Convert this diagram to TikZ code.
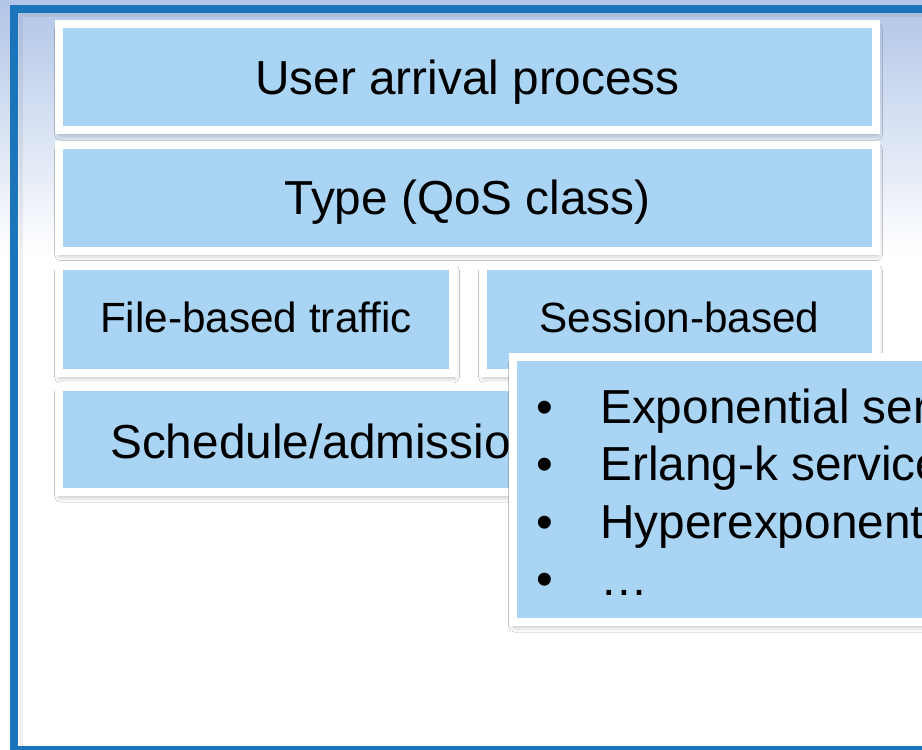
\documentclass[tikz,border=0pt]{standalone}
\usepackage{fontspec}
\setmainfont{Liberation Sans}
\usetikzlibrary{shadows.blur}
\definecolor{frameblue}{HTML}{1B75BB}
\definecolor{boxblue}{HTML}{A9D4F4}
\definecolor{bgtop}{HTML}{B1C5E7}
\begin{document}
\begin{tikzpicture}[x=0.75pt,y=-0.75pt,
    box/.style={draw=white, line width=6pt, fill=boxblue, inner sep=0pt,
      blur shadow={shadow xshift=0.8pt, shadow yshift=-3.5pt, shadow blur radius=4pt,
        shadow blur steps=8, shadow opacity=30}},
    big/.style={font=\fontsize{35.8}{43}\selectfont, text height=25.6pt, text depth=0pt},
    small/.style={font=\fontsize{31.7}{38}\selectfont, text height=22.7pt, text depth=3.8pt}]
  % Page and background
  \useasboundingbox (0,0) rectangle (922,750);
  \clip (0,0) rectangle (922,750);
  \fill[white] (0,0) rectangle (922,750);
  \shade[top color=bgtop, bottom color=white] (0,0) rectangle (922,255);

  % Slide frame
  \draw[black, opacity=0.06, line width=3pt] (20.5,746) -- (20.5,15) -- (940,15);
  \draw[frameblue, line width=6pt, line join=miter] (940,750) -- (14,750) -- (14,9) -- (940,9);

  % Layers of the model
  \node[box, big, minimum width=612.75pt, minimum height=79.5pt] (arrival) at (467.5,77) {User arrival process};
  \node[box, big, minimum width=612.75pt, minimum height=79.5pt] (qos) at (467.5,197.5) {Type (QoS class)};
  \node[box, small, minimum width=295.5pt, minimum height=80.25pt] (file) at (256,319.5) {File-based traffic};
  \node[box, small, minimum width=294.75pt, minimum height=80.25pt] (session) at (679.5,319.5) {Session-based};
  \node[box, minimum width=612.75pt, minimum height=78.75pt] (sched) at (467.5,439.5) {};
  \node[font=\fontsize{35.8}{43}\selectfont, anchor=base west, inner sep=0pt] (schedtext) at (110,458) {Schedule/admissio};

  % Overlay with service time distributions
  \node[box, minimum width=440.25pt, minimum height=198.75pt] (dist) at (806.5,489.5) {};
  \foreach \txt [count=\i] in {Exponential ser,Erlang-k service,Hyperexponent,…} {
    \node[font=\fontsize{35.8}{43}\selectfont, anchor=base, inner sep=0pt] (dot\i) at (545,365.4+57.6*\i) {•};
    \node[font=\fontsize{35.8}{43}\selectfont, anchor=base west, inner sep=0pt] (item\i) at (600,365.4+57.6*\i) {\txt};
  }
\end{tikzpicture}
\end{document}
